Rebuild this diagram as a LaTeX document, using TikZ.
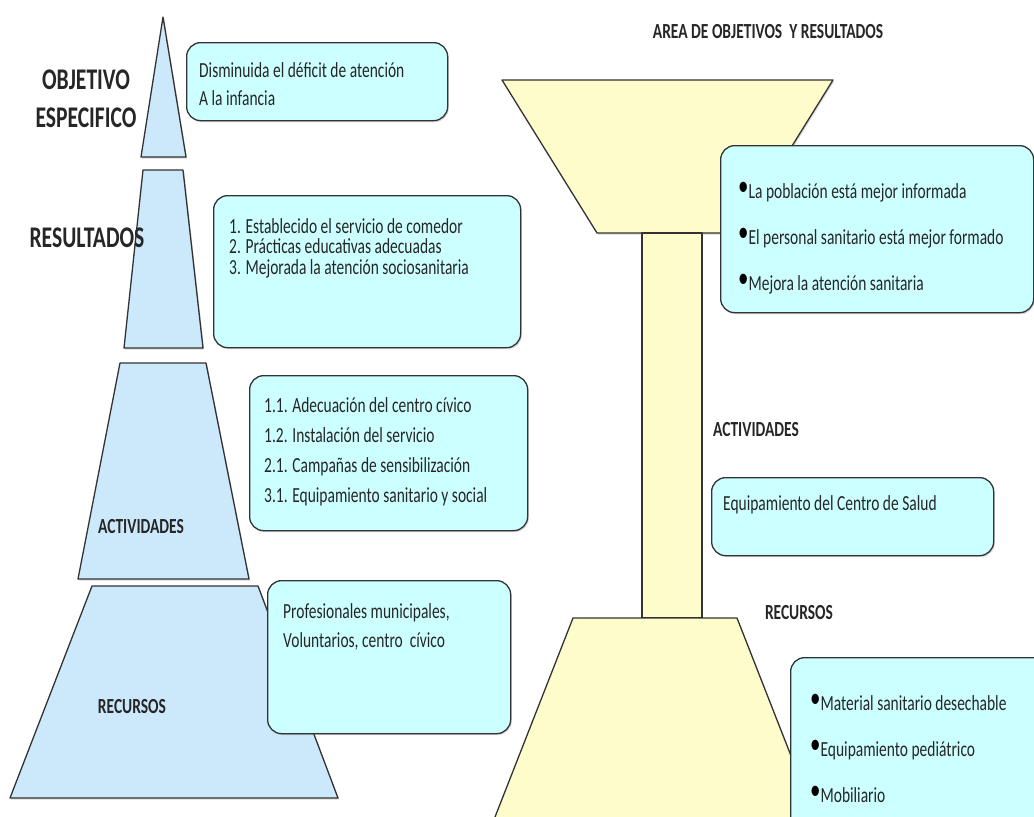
\documentclass[tikz,border=0pt]{standalone}
\usepackage{fontspec}
\setmainfont[FakeStretch=0.72]{Carlito}
\usepackage{tikz}
\usetikzlibrary{positioning, shadows}

\definecolor{cajacian}{RGB}{204,255,255}
\definecolor{azulpir}{RGB}{204,233,251}
\definecolor{amarillo}{RGB}{255,252,204}

\newcommand{\punto}{\raisebox{0.3ex}{\textcolor{black}{\scalebox{1.35}{\textbullet}}}}

\begin{document}
\begin{tikzpicture}[
		x=1pt, y=-1pt,
		shape/.style={draw=black!80, line width=1.3pt, line join=round, fill=#1,
			drop shadow={shadow xshift=1.2pt, shadow yshift=-1.5pt, opacity=0.3}},
		box/.style={rectangle, draw=black!80, line width=1.3pt, rounded corners=14pt,
			fill=cajacian, anchor=north west, inner sep=0pt,
			drop shadow={shadow xshift=1.2pt, shadow yshift=-1.5pt, opacity=0.3}},
		txt/.style={inner sep=0pt, align=left, text=black!85, font=\fontsize{21.5}{#1}\selectfont},
		txt/.default=28,
		label/.style={font=\bfseries\fontsize{21.5}{26}\selectfont, text=black!85, inner sep=0pt},
		title/.style={font=\bfseries\fontsize{30}{38}\selectfont, text=black!85, inner sep=0pt, align=center}
		]
		\useasboundingbox (0,0) rectangle (1034,817);
		\clip (0,0) rectangle (1034,817);
		
		% Left: stacked pyramid
		\draw[shape=azulpir] (163,17) -- (186,157) -- (141,157) -- cycle;
		\draw[shape=azulpir] (143,170) -- (183,170) -- (203,348) -- (124,348) -- cycle;
		\draw[shape=azulpir] (120,363) -- (206,363) -- (249,579) -- (78,579) -- cycle;
		\draw[shape=azulpir] (92,586) -- (258,586) -- (338,798) -- (10,798) -- cycle;
		
		% Right: funnel, stem and base
		\draw[shape=amarillo] (502,80) -- (833,80) -- (738,233) -- (597,233) -- cycle;
		\draw[shape=amarillo] (642,233) rectangle (702,618);
		\draw[shape=amarillo] (573,618) -- (737,618) -- (824,840) -- (486,840) -- cycle;
		
		% Left boxes
		\node[box, minimum width=261pt, minimum height=78pt] (obj) at (186,42) {};
		\node[box, minimum width=307pt, minimum height=152pt] (res) at (213,195) {};
		\node[box, minimum width=278pt, minimum height=155pt] (act) at (249,375) {};
		\node[box, minimum width=243pt, minimum height=153pt] (rec) at (267,580) {};
		
		\node[txt, below right=20pt and 13pt of obj.north west] (objtxt) {%
			Disminuida el déficit de atención \\
			A la infancia
		};
		\node[txt=20.5, below right=23pt and 16pt of res.north west] (restxt) {%
			1. Establecido el servicio de comedor \\
			2. Prácticas educativas adecuadas \\
			3. Mejorada la atención sociosanitaria
		};
		\node[txt=30, below right=22pt and 15pt of act.north west] (acttxt) {%
			1.1. Adecuación del centro cívico \\
			1.2. Instalación del servicio \\
			2.1. Campañas de sensibilización \\
			3.1. Equipamiento sanitario y social
		};
		\node[txt=29, below right=23pt and 16pt of rec.north west] (rectxt) {%
			Profesionales municipales, \\
			Voluntarios, centro\ \ cívico
		};
		
		% Right boxes
		\node[box, minimum width=313pt, minimum height=167pt] (obj2) at (720,145) {};
		\node[box, minimum width=282pt, minimum height=78pt] (act2) at (711,477) {};
		\node[box, minimum width=260pt, minimum height=180pt] (rec2) at (790,657) {};
		
		\node[txt=46, below right=37pt and 18pt of obj2.north west] (obj2txt) {%
			\punto La población está mejor informada \\
			\punto El personal sanitario está mejor formado \\
			\punto Mejora la atención sanitaria
		};
		\node[txt, below right=18pt and 12pt of act2.north west] (act2txt) {%
			Equipamiento del Centro de Salud
		};
		\node[txt=46, below right=37pt and 20pt of rec2.north west] (rec2txt) {%
			\punto Material sanitario desechable \\
			\punto Equipamiento pediátrico \\
			\punto Mobiliario
		};
		
		% Level labels
		\node[title] (tobj) at (86,99) {OBJETIVO \\ ESPECIFICO};
		\node[title] (tres) at (87,238) {RESULTADOS};
		\node[label] (tact) at (141,527) {ACTIVIDADES};
		\node[label] (trec) at (132,707) {RECURSOS};
		
		\node[label] (tarea) at (768,32) {AREA DE OBJETIVOS\ \ Y RESULTADOS};
		\node[label] (tact2) at (756,430) {ACTIVIDADES};
		\node[label] (trec2) at (799,613) {RECURSOS};
		
	\end{tikzpicture}
\end{document}
